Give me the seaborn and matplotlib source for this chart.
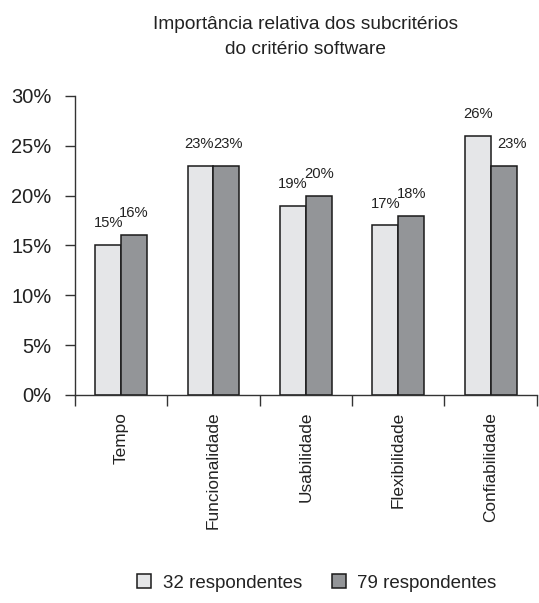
import matplotlib
matplotlib.use("Agg")
import matplotlib.pyplot as plt
import seaborn as sns
import pandas as pd
from matplotlib.ticker import PercentFormatter, FixedLocator

# Data
categories = ["Tempo", "Funcionalidade", "Usabilidade", "Flexibilidade", "Confiabilidade"]
series_names = ["32 respondentes", "79 respondentes"]
values_32 = [15, 23, 19, 17, 26]
values_79 = [16, 23, 20, 18, 23]
y_ticks = [0, 5, 10, 15, 20, 25, 30]

df = pd.DataFrame({
    "categoria": categories * 2,
    "grupo": [series_names[0]] * len(categories) + [series_names[1]] * len(categories),
    "valor": values_32 + values_79,
})

sns.set_theme(style="white")
plt.rcParams["font.family"] = ["Liberation Sans", "DejaVu Sans"]
text_color = "#222222"

fig = plt.figure(figsize=(5.39, 6.03), dpi=100)
ax = fig.add_axes([0.139, 0.345, 0.857, 0.496])

palette = {series_names[0]: "#e5e6e8", series_names[1]: "#939598"}
sns.barplot(data=df, x="categoria", y="valor", hue="grupo", palette=palette,
            width=0.56, edgecolor="#1a1a1a", linewidth=1.1, saturation=1,
            ax=ax, legend=True)

# Value labels above each bar; a label sitting next to a taller bar is nudged right
label_gap = 1.5
light_bars, dark_bars = ax.containers[0], ax.containers[1]
for i, bar in enumerate(light_bars):
    h = bar.get_height()
    x = bar.get_x() + bar.get_width() / 2
    if abs(dark_bars[i].get_height() - h) < 0.5:
        x -= 0.02
    ax.text(x, h + label_gap, f"{h:.0f}%",
            ha="center", va="bottom", fontsize=10.6, color=text_color)
for i, bar in enumerate(dark_bars):
    h = bar.get_height()
    x = bar.get_x() + bar.get_width() / 2
    if light_bars[i].get_height() > h + 1:
        x += 0.09
    elif abs(light_bars[i].get_height() - h) < 0.5:
        x += 0.02
    ax.text(x, h + label_gap, f"{h:.0f}%", ha="center", va="bottom",
            fontsize=10.6, color=text_color)

ax.set_ylim(0, 30)
ax.set_xlim(-0.5, len(categories) - 0.5)
ax.yaxis.set_major_locator(FixedLocator(y_ticks))
ax.yaxis.set_major_formatter(PercentFormatter(decimals=0))
ax.set_xlabel("")
ax.set_ylabel("")

# Category separators as outward ticks between groups
ax.set_xticks(range(len(categories)))
ax.set_xticklabels(categories, rotation=90, fontsize=12.4, color=text_color)
ax.set_xticks([i - 0.5 for i in range(len(categories) + 1)], minor=True)
ax.tick_params(axis="x", which="major", length=0, pad=12)
ax.tick_params(axis="x", which="minor", length=8, width=1, color="#333333",
               direction="out", bottom=True)
ax.tick_params(axis="y", which="major", length=7, width=1, color="#333333",
               direction="out", left=True, labelsize=14.5, labelcolor=text_color, pad=10)

for side in ["top", "right"]:
    ax.spines[side].set_visible(False)
for side in ["left", "bottom"]:
    ax.spines[side].set_color("#333333")
    ax.spines[side].set_linewidth(1)

ax.set_title("Importância relativa dos subcritérios\ndo critério software",
             fontsize=13.8, color=text_color, pad=30, linespacing=1.65)

handles, labels = ax.get_legend_handles_labels()
ax.get_legend().remove()
fig.legend(handles, labels, loc="center", bbox_to_anchor=(0.588, 0.033), ncol=2,
           frameon=False, fontsize=13.5, handlelength=0.75, handleheight=0.75,
           handletextpad=0.6, columnspacing=1.6, labelcolor=text_color)

fig.savefig("out.png", dpi=100)
